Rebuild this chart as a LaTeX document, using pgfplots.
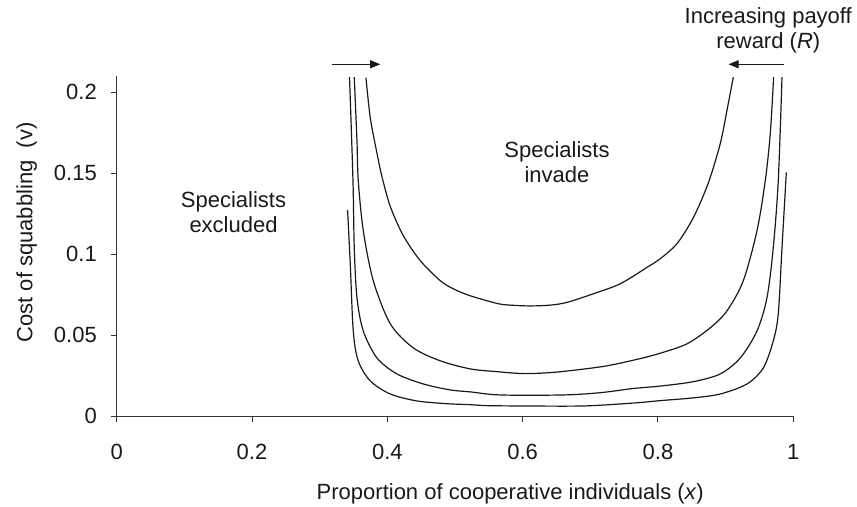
\documentclass[border=0pt]{standalone}
\usepackage{pgfplots}
\pgfplotsset{compat=1.18}
\usetikzlibrary{arrows.meta}
\usepackage{fontspec}
\setmainfont{Liberation Sans}
\begin{document}
\fontsize{22bp}{25bp}\selectfont
\begin{tikzpicture}
\useasboundingbox (-116.7bp,-91bp) rectangle (740.3bp,416bp);
\begin{axis}[
  at={(0,0)}, anchor=south west,
  scale only axis, width=676.6bp, height=339.9bp,
  xmin=0, xmax=1, ymin=0, ymax=0.21,
  axis x line*=bottom, axis y line*=left,
  axis line style={line width=1bp, color=black!80},
  tick style={line width=1bp, color=black!80},
  tick align=outside,
  major tick length=6bp,
  xtick={0,0.2,0.4,0.6,0.8,1}, xticklabels={0,0.2,0.4,0.6,0.8,1},
  ytick={0,0.05,0.1,0.15,0.2}, yticklabels={0,0.05,0.1,0.15,0.2},
  xticklabel style={anchor=base, inner sep=0pt, yshift=-37bp, text=black!90},
  yticklabel style={anchor=east, inner sep=0pt, xshift=-13.7bp, text=black!90},
  clip=false,
  xlabel={Proportion of cooperative individuals (\textit{x})},
  xlabel style={at={(axis description cs:0.5817,-0.2442)}, anchor=base, inner sep=0pt, text=black!90},
  ylabel={Cost of squabbling\ \ (v)},
  ylabel style={at={(axis description cs:-0.1330,0.54)}, anchor=center, inner sep=0pt, text=black!90},
]
% curve 1 (lowest reward)
\addplot[black!90, line width=1.2bp, smooth, tension=0.5] coordinates {
(0.3684,0.2091) (0.3747,0.1845) (0.3846,0.1625) (0.3920,0.1480) (0.4043,0.1295)
(0.4235,0.1115) (0.4486,0.0960) (0.4782,0.0836) (0.4974,0.0786) (0.5225,0.0743)
(0.5625,0.0695) (0.5817,0.0685) (0.6110,0.0680) (0.6408,0.0685) (0.6655,0.0702) (0.7044,0.0755)
(0.7443,0.0817) (0.7837,0.0918) (0.8034,0.0972) (0.8281,0.1065) (0.8522,0.1225)
(0.8744,0.1440) (0.8921,0.1684) (0.9020,0.1889) (0.9113,0.2093)
};
% curve 2
\addplot[black!90, line width=1.2bp, smooth, tension=0.5] coordinates {
(0.3511,0.2093) (0.3551,0.1703) (0.3570,0.1455) (0.3644,0.1146) (0.3792,0.0836)
(0.4043,0.0570) (0.4383,0.0421) (0.4782,0.0341) (0.5225,0.0291) (0.5620,0.0274)
(0.6009,0.0262) (0.6408,0.0268) (0.6803,0.0285) (0.7246,0.0310) (0.7690,0.0350)
(0.8034,0.0388) (0.8429,0.0446) (0.8773,0.0545) (0.9020,0.0650) (0.9261,0.0836)
(0.9464,0.1146) (0.9586,0.1455) (0.9660,0.1746) (0.9709,0.2093)
};
% curve 3
\addplot[black!90, line width=1.2bp, smooth, tension=0.5] coordinates {
(0.3441,0.2093) (0.3492,0.1455) (0.3511,0.1040) (0.3551,0.0731) (0.3644,0.0526)
(0.3846,0.0359) (0.4142,0.0260) (0.4531,0.0198) (0.4930,0.0161) (0.5225,0.0149)
(0.5669,0.0130) (0.6600,0.0130) (0.7147,0.0144) (0.7635,0.0170) (0.8034,0.0185)
(0.8522,0.0212) (0.8921,0.0260) (0.9217,0.0359) (0.9464,0.0526) (0.9611,0.0731)
(0.9704,0.1040) (0.9778,0.1455) (0.9833,0.2093)
};
% curve 4 (highest reward)
\addplot[black!90, line width=1.2bp, smooth, tension=0.5] coordinates {
(0.3412,0.1274) (0.3452,0.0941) (0.3496,0.0526) (0.3570,0.0341) (0.3747,0.0217)
(0.4043,0.0136) (0.4438,0.0093) (0.4881,0.0076) (0.5225,0.0070) (0.5472,0.0064)
(0.6000,0.0062) (0.6896,0.0062) (0.7635,0.0080) (0.8034,0.0095) (0.8522,0.0112)
(0.8921,0.0136) (0.9316,0.0198) (0.9557,0.0297) (0.9704,0.0464) (0.9778,0.0632)
(0.9833,0.1040) (0.9897,0.1505)
};
\draw[-{Triangle[length=10bp,width=8bp]}, line width=1.1bp, black!90]
  (axis cs:0.3181,0.2173) -- (axis cs:0.3895,0.2173);
\draw[-{Triangle[length=10bp,width=8bp]}, line width=1.1bp, black!90]
  (axis cs:0.9857,0.2173) -- (axis cs:0.9044,0.2173);
\node[align=center, text=black!90] at (axis cs:0.1727,0.1257) {Specialists\\excluded};
\node[align=center, text=black!90] at (axis cs:0.6507,0.1566) {Specialists\\invade};
\node[align=center, text=black!90] at (axis cs:0.9630,0.2382) {Increasing payoff\\reward (\textit{R})};
\end{axis}
\end{tikzpicture}
\end{document}
